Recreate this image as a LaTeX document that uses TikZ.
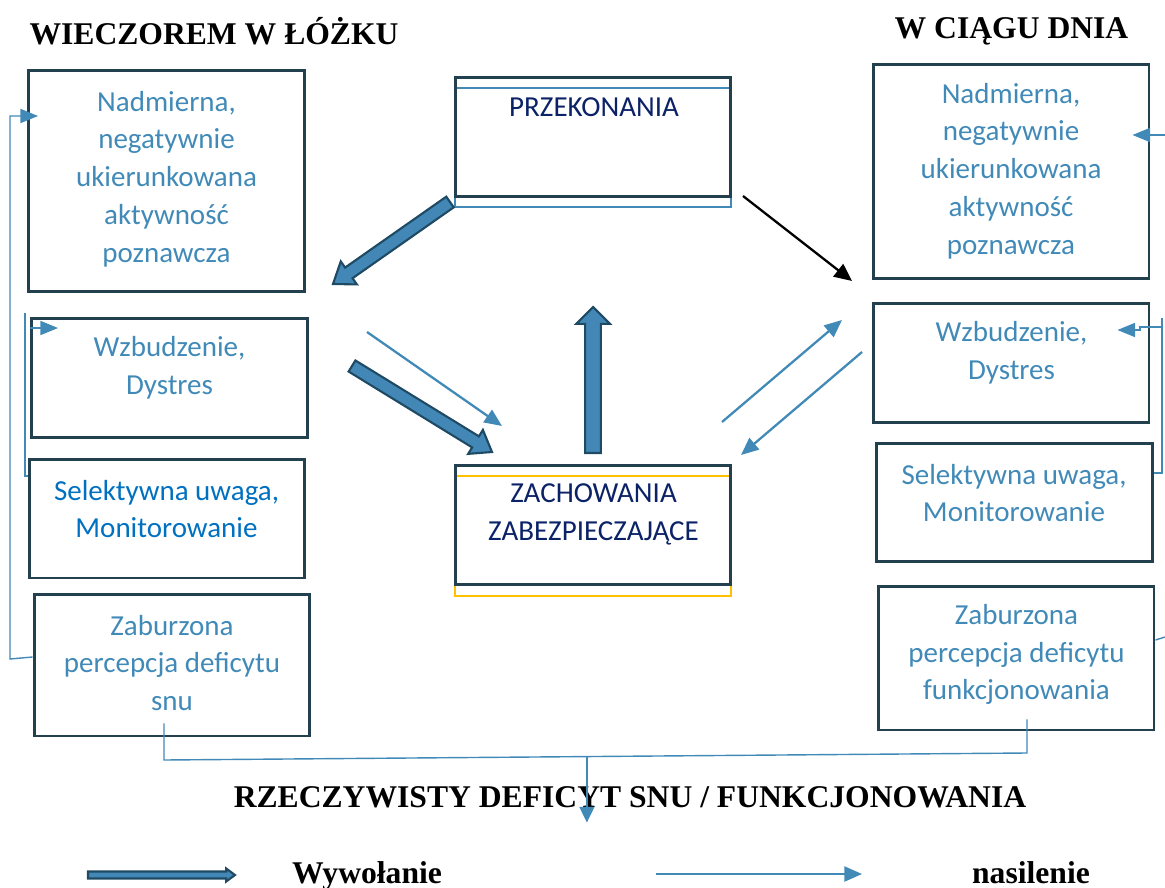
\documentclass[tikz,border=0pt]{standalone}
\usepackage{fontspec}
\setmainfont{Liberation Serif}
\newfontfamily\boxfont{Carlito}
\usetikzlibrary{arrows.meta, calc}

\definecolor{boxline}{HTML}{23404F}
\definecolor{txtblue}{HTML}{418AB8}
\definecolor{selblue}{HTML}{0070C0}
\definecolor{navy}{HTML}{0B2266}
\definecolor{arrfill}{HTML}{4287B5}
\definecolor{arrline}{HTML}{1F4A63}
\definecolor{gold}{HTML}{FFC000}

% filled block arrow: from, to, half shaft, half head, head length
\newcommand\blockarrow[5]{%
  \coordinate (bahead) at ($(#2)!#5!(#1)$);
  \filldraw[bigarrow]
    ($(#1)!#3!90:(#2)$) -- ($(bahead)!#3!90:(#2)$) -- ($(bahead)!#4!90:(#2)$)
    -- (#2) -- ($(bahead)!#4!-90:(#2)$) -- ($(bahead)!#3!-90:(#2)$)
    -- ($(#1)!#3!-90:(#2)$) -- cycle;}

\begin{document}
\begin{tikzpicture}[x=0.02cm, y=-0.02cm,
    box/.style={draw=boxline, line width=1.7pt, minimum width=5.52cm, inner sep=0pt},
    txt/.style={font=\boxfont\fontsize{16.5}{21.5}\selectfont, text=txtblue, align=center, inner sep=0pt},
    title/.style={font=\bfseries\fontsize{18}{20}\selectfont, inner sep=0pt},
    bigarrow/.style={fill=arrfill, draw=arrline, line width=1.2pt, line join=miter},
    thin/.style={draw=txtblue, line width=1.3pt, -{Triangle[length=10pt, width=8.5pt]}},
    fb/.style={draw=txtblue, line width=0.8pt},
    fbtip/.style={fb, -{Triangle[length=10pt, width=8pt]}}]
    \useasboundingbox (0,0) rectangle (1165,888);
    %
    \node[title] (evening) at (214,31) {WIECZOREM W ŁÓŻKU};
    \node[title] (day) at (1011.5,31) {W CIĄGU DNIA};
    %
    % left column
    \node[box, minimum height=4.44cm] (l1) at (166.5,181) {};
    \node[box, minimum height=2.4cm] (l2) at (169.5,378) {};
    \node[box, minimum height=2.38cm] (l3) at (167,518.5) {};
    \node[box, minimum height=2.84cm] (l4) at (172,665) {};
    \node[txt] (l1t) at (166.5,179) {Nadmierna,\\negatywnie\\ukierunkowana\\aktywność\\poznawcza};
    \node[txt] (l2t) at (169.5,368) {Wzbudzenie,\\Dystres};
    \node[txt, text=selblue] (l3t) at (166.5,509) {Selektywna uwaga,\\Monitorowanie};
    \node[txt] (l4t) at (172,663) {Zaburzona\\percepcja deficytu\\snu};
    %
    % right column
    \node[box, minimum height=4.3cm] (r1) at (1011,171.5) {};
    \node[box, minimum height=2.4cm] (r2) at (1011,363) {};
    \node[box, minimum height=2.38cm] (r3) at (1014.5,502.5) {};
    \node[box, minimum height=2.88cm] (r4) at (1016,658) {};
    \node[txt] (r1t) at (1011,171) {Nadmierna,\\negatywnie\\ukierunkowana\\aktywność\\poznawcza};
    \node[txt] (r2t) at (1011.5,352.5) {Wzbudzenie,\\Dystres};
    \node[txt] (r3t) at (1014,493) {Selektywna uwaga,\\Monitorowanie};
    \node[txt] (r4t) at (1016.5,654.5) {Zaburzona\\percepcja deficytu\\funkcjonowania};
    %
    % centre
    \draw[txtblue, line width=1.1pt] (455,88) rectangle (731,207);
    \node[box, minimum height=2.4cm] (p) at (593,137) {};
    \draw[gold, line width=1.5pt] (455,476) rectangle (731,596);
    \node[box, minimum height=2.4cm] (z) at (593,525) {};
    \node[txt, text=navy] (pt) at (594,107) {PRZEKONANIA};
    \node[txt, text=navy] (zt) at (593.5,514.5) {ZACHOWANIA\\ZABEZPIECZAJĄCE};
    %
    % thick arrows
    \coordinate (a1s) at (450,202);
    \coordinate (a1e) at (333,284);
    \coordinate (a2s) at (352,366);
    \coordinate (a2e) at (492,452);
    \coordinate (a3s) at (593,453);
    \coordinate (a3e) at (593,307);
    \blockarrow{a1s}{a1e}{3.7pt}{8pt}{11pt}
    \blockarrow{a2s}{a2e}{3.7pt}{8pt}{11pt}
    \blockarrow{a3s}{a3e}{4.5pt}{9.6pt}{9.6pt}
    %
    % thin arrows
    \coordinate (t1s) at (367,332);
    \coordinate (t1e) at (502,426);
    \coordinate (t2s) at (722,422);
    \coordinate (t2e) at (842,320);
    \coordinate (t3s) at (862,352);
    \coordinate (t3e) at (741,455);
    \draw[thin] (t1s) -- (t1e);
    \draw[thin] (t2s) -- (t2e);
    \draw[thin] (t3s) -- (t3e);
    \coordinate (bs) at (743,196);
    \coordinate (be) at (852,281);
    \draw[black, line width=1.3pt, -{Triangle[length=10pt, width=9pt]}] (bs) -- (be);
    %
    % feedback lines, left
    \coordinate (ltop) at (10,116);
    \coordinate (lbot) at (10,659);
    \draw[fbtip] ([yshift=0.16cm]l4.west) -- (lbot) -- (ltop) -- ($(l1.west |- ltop)+(11,0)$);
    \coordinate (lmid) at (25,313);
    \coordinate (lsel) at (25,476);
    \draw[fb] (l3.west |- lsel) -- (lsel) -- (lmid);
    \draw[fbtip] ([yshift=1cm]l2.west) -- ++(28,0);
    %
    % feedback lines, right
    \coordinate (redge1) at (1165,135);
    \draw[fbtip] (redge1) -- ($(r1.east |- redge1)+(-18,0)$);
    \coordinate (rtop) at (1162,318);
    \coordinate (rsel) at (1162,473);
    \draw[fb] (r3.east |- rsel) -- (rsel) -- (rtop);
    \coordinate (rwz) at (1162,327);
    \draw[fbtip] (rwz) -- (1140,327) -- (1140,330) -- ($(r2.east |- 0,330)+(-33,0)$);
    \coordinate (redge4) at (1165,637);
    \draw[fb] ([yshift=0.36cm]r4.east) -- (redge4);
    %
    % actual deficit
    \node[title] (deficit) at (630,797) {RZECZYWISTY DEFICYT SNU / FUNKCJONOWANIA};
    \coordinate (bl) at (164,760);
    \coordinate (br) at (1027,753);
    \draw[fb] ($(l4.south -| bl)+(0,-14)$) -- (bl) -- (br) -- ($(r4.south -| br)+(0,-12)$);
    \coordinate (ds) at ($(bl)!0.49!(br)$);
    \draw[draw=txtblue, line width=1pt, -{Triangle[length=9pt, width=8.5pt]}] (ds) -- ++(0,66);
    %
    % legend
    \coordinate (lg1s) at (88,875);
    \coordinate (lg1e) at (235,875);
    \blockarrow{lg1s}{lg1e}{2pt}{3.7pt}{5pt}
    \node[title] (trig) at (367,876) {Wywołanie};
    \coordinate (lg2s) at (656,874);
    \coordinate (lg2e) at (862,874);
    \draw[thin] (lg2s) -- (lg2e);
    \node[title] (intens) at (1031,873) {nasilenie};
\end{tikzpicture}
\end{document}
